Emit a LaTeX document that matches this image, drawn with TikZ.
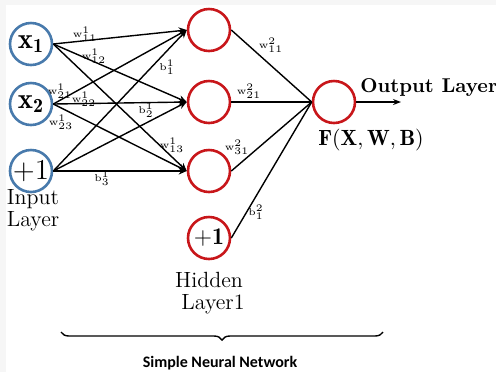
\documentclass[tikz,border=0pt]{standalone}
\usepackage{amsmath}
\usepackage{fontspec}
\newfontfamily\capfont{Carlito}
\usetikzlibrary{arrows.meta,decorations.pathreplacing}
\definecolor{inblue}{RGB}{72,122,172}
\definecolor{hidred}{RGB}{200,22,26}
\definecolor{edgegray}{RGB}{246,246,246}
\tikzset{
  inneuron/.style={circle,draw=inblue,line width=1.3pt,minimum size=21pt,inner sep=0pt,font=\Large},
  hidneuron/.style={circle,draw=hidred,line width=1.3pt,minimum size=21pt,inner sep=0pt,font=\large},
  conn/.style={line width=0.7pt,-{Stealth[length=4pt,width=3.5pt]}},
  plain/.style={line width=0.7pt},
  wlab/.style={font=\tiny,inner sep=0pt},
  layertext/.style={font=\fontsize{11}{12}\selectfont,align=center,inner sep=0pt}
}
\begin{document}
\begin{tikzpicture}[x=0.5pt,y=-0.5pt]
  % page frame with the thin grey margin on the top and left
  \fill[edgegray] (0,0) rectangle (496,372);
  \fill[white] (6,5) rectangle (496,372);
  \useasboundingbox (0,0) rectangle (496,372);

  % input layer
  \node[inneuron] (x1) at (31,44) {$\mathbf{x_1}$};
  \node[inneuron] (x2) at (31,104) {$\mathbf{x_2}$};
  \node[inneuron] (xb) at (31,171) {$+1$};
  \node[layertext] (inlab) at (33,210) {Input\\[-1pt]Layer};

  % hidden layer
  \node[hidneuron] (h1) at (209,30) {};
  \node[hidneuron] (h2) at (209,102) {};
  \node[hidneuron] (h3) at (209,171) {};
  \node[hidneuron] (hb) at (209,238) {$+\mathbf{1}$};
  \node[layertext] (hidlab) at (209,293) {Hidden\\[-1pt]\hspace*{4pt}Layer1};

  % output layer
  \node[hidneuron] (out) at (334,102) {};
  \coordinate (outend) at (401,102);
  \node[font=\normalsize\bfseries,anchor=west,inner sep=0pt] (outlab) at (360,88) {Output Layer};
  \node[font=\fontsize{11}{12}\selectfont,inner sep=0pt] (flab) at (371,140) {$\mathbf{F}(\mathbf{X},\mathbf{W},\mathbf{B})$};

  % input -> hidden connections
  \foreach \s in {x1,x2,xb}{
    \foreach \t in {h1,h2,h3}{
      \draw[conn] (\s.east) -- (\t.west);
    }
  }
  % hidden -> output connections
  \foreach \t in {h1,h2,h3,hb}{
    \draw[plain] (\t.east) -- (out.west);
  }
  \draw[line width=0.7pt,-{Stealth[length=4pt,width=3pt]}] (out.east) -- (outend);

  % weight and bias labels
  \node[wlab] (w111) at (85,34) {$\mathrm{w}^1_{11}$};
  \node[wlab] (w112) at (94,56) {$\mathrm{w}^1_{12}$};
  \node[wlab] (w113) at (172,145) {$\mathrm{w}^1_{13}$};
  \node[wlab] (w121) at (60,91) {$\mathrm{w}^1_{21}$};
  \node[wlab] (w122) at (84,99) {$\mathrm{w}^1_{22}$};
  \node[wlab] (w123) at (61,122) {$\mathrm{w}^1_{23}$};
  \node[wlab] (b11) at (167,67) {$\mathrm{b}^1_1$};
  \node[wlab] (b12) at (146,110) {$\mathrm{b}^1_2$};
  \node[wlab] (b13) at (102,178) {$\mathrm{b}^1_3$};
  \node[wlab] (w211) at (271,45) {$\mathrm{w}^2_{11}$};
  \node[wlab] (w221) at (249,91) {$\mathrm{w}^2_{21}$};
  \node[wlab] (w231) at (237,147) {$\mathrm{w}^2_{31}$};
  \node[wlab] (b21) at (256,212) {$\mathrm{b}^2_1$};

  % brace spanning the network
  \coordinate (brl) at (61,332);
  \coordinate (brr) at (383,332);
  \draw[line width=0.7pt,decorate,decoration={brace,amplitude=4pt}] (brr) -- (brl);
  \node[font=\capfont\bfseries\footnotesize,inner sep=0pt] (cap) at (220,363) {Simple Neural Network};
\end{tikzpicture}
\end{document}
